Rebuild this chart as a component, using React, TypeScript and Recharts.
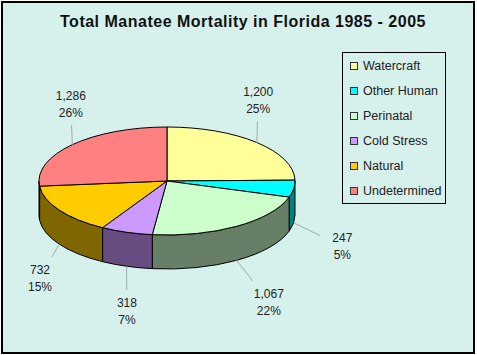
import React from 'react';
import { PieChart, Pie, Legend } from 'recharts';

const causes = ['Watercraft', 'Other Human', 'Perinatal', 'Cold Stress', 'Natural', 'Undetermined'];
const deaths = [1200, 247, 1067, 318, 732, 1286];
const topColors = ['#FFFF99', '#00FFFF', '#CCFFCC', '#CC99FF', '#FFCC00', '#FF8080'];
const sideColors = ['#80804C', '#008080', '#667F66', '#664C80', '#806600', '#804040'];

const BG = '#D6F0EC';
const TILT = 54 / 128; // flattening of the pie top
const DEPTH = 34; // thickness of the pie

// excel style percentages: round so they add up to 100
const pctLabels = (() => {
  const total = deaths.reduce((a, b) => a + b, 0);
  const raw = deaths.map((d) => (d * 100) / total);
  const fl = raw.map(Math.floor);
  const left = 100 - fl.reduce((a, b) => a + b, 0);
  const order = raw.map((r, i) => [r - fl[i], i]).sort((a, b) => b[0] - a[0]);
  for (let k = 0; k < left; k++) fl[order[k][1]]++;
  return fl.map((p) => p + '%');
})();

const data = causes.map((name, i) => ({
  name,
  value: deaths[i],
  fill: topColors[i],
  side: sideColors[i],
  pct: pctLabels[i],
}));

const pt = (cx: number, cy: number, rx: number, a: number) => {
  const r = (a * Math.PI) / 180;
  return [cx + rx * Math.cos(r), cy - rx * TILT * Math.sin(r)];
};

const Slice3D = (props: any) => {
  const { cx, cy, outerRadius: rx, startAngle, endAngle } = props;
  const ry = rx * TILT;
  const side = props.side ?? props.payload?.side ?? '#666';
  const fill = props.payload?.fill ?? props.fill;
  const [sx, sy] = pt(cx, cy, rx, startAngle);
  const [ex, ey] = pt(cx, cy, rx, endAngle);
  const large = Math.abs(startAngle - endAngle) > 180 ? 1 : 0;
  const sweep = startAngle > endAngle ? 1 : 0;
  const top = `M${cx},${cy} L${sx},${sy} A${rx},${ry} 0 ${large} ${sweep} ${ex},${ey} Z`;

  // front wall: the part of the arc between 0 and -180 degrees
  const hi = Math.min(Math.max(startAngle, endAngle), 0);
  const lo = Math.max(Math.min(startAngle, endAngle), -180);
  let wall = null;
  if (hi > lo) {
    const [hx, hy] = pt(cx, cy, rx, hi);
    const [lx, ly] = pt(cx, cy, rx, lo);
    wall = (
      <path
        d={`M${hx},${hy} A${rx},${ry} 0 0 1 ${lx},${ly} L${lx},${ly + DEPTH} A${rx},${ry} 0 0 0 ${hx},${hy + DEPTH} Z`}
        fill={side}
        stroke="#000"
        strokeWidth={1}
      />
    );
  }
  return (
    <g>
      {wall}
      <path d={top} fill={fill} stroke="#000" strokeWidth={1} />
    </g>
  );
};

const renderLabel = (props: any) => {
  const { cx, cy, outerRadius: rx, midAngle, value } = props;
  const pct = props.pct ?? props.payload?.pct;
  const r = (midAngle * Math.PI) / 180;
  const sin = Math.sin(r);
  const cos = Math.cos(r);
  const front = sin < 0;
  const [ex, ey0] = pt(cx, cy, rx, midAngle);
  const ey = ey0 + (front ? DEPTH : 0);
  const baseY = cy + (front ? DEPTH : 0);
  const lx = front ? cx + 12 + 165 * cos : cx + 130 * cos;
  const ly = baseY + (front ? 20 - 80 * sin : -20 - 85 * sin);

  // leader line stops at the edge of the text block
  const dx = lx - ex;
  const dy = ly - ey;
  const hw = 22;
  const hh = 21;
  const t = Math.min(dx !== 0 ? hw / Math.abs(dx) : 99, dy !== 0 ? hh / Math.abs(dy) : 99);
  const endX = lx - dx * t;
  const endY = ly - dy * t;

  return (
    <g>
      <line x1={ex} y1={ey} x2={endX} y2={endY} stroke="#A3ABA9" strokeWidth={1} />
      <text
        x={lx}
        y={ly}
        textAnchor="middle"
        fontFamily="Liberation Sans, Arial, sans-serif"
        fontSize={12}
        fill="#222"
      >
        <tspan x={lx} y={ly - 4}>{Number(value).toLocaleString('en-US')}</tspan>
        <tspan x={lx} y={ly + 13}>{pct}</tspan>
      </text>
    </g>
  );
};

const LegendBox = () => (
  <div
    style={{
      border: '1px solid #000',
      background: BG,
      fontFamily: 'Liberation Sans, Arial, sans-serif',
      fontSize: 12.5,
      color: '#222',
    }}
  >
    {data.map((d) => (
      <div key={d.name} style={{ height: 25, display: 'flex', alignItems: 'center', paddingLeft: 7 }}>
        <span
          style={{
            width: 6,
            height: 6,
            border: '1px solid #333',
            background: d.fill,
            marginRight: 5,
            display: 'inline-block',
          }}
        />
        <span>{d.name}</span>
      </div>
    ))}
  </div>
);

export default function App() {
  return (
    <div style={{ position: 'absolute', left: 0, top: 0, width: 477, height: 355, background: '#fff' }}>
      <div
        style={{
          position: 'absolute',
          left: 1,
          top: 1,
          width: 474,
          height: 353,
          boxSizing: 'border-box',
          border: '2px solid #000',
          background: BG,
        }}
      />
      <div
        style={{
          position: 'absolute',
          left: 0,
          top: 13,
          width: 486,
          textAlign: 'center',
          fontFamily: 'Liberation Sans, Arial, sans-serif',
          fontWeight: 'bold',
          fontSize: 16,
          letterSpacing: 0.5,
          color: '#111',
        }}
      >
        Total Manatee Mortality in Florida 1985 - 2005
      </div>
      <div style={{ position: 'absolute', left: 0, top: 0 }}>
        <PieChart width={477} height={355} margin={{ top: 0, right: 0, bottom: 0, left: 0 }}>
          <Pie
            data={data}
            dataKey="value"
            nameKey="name"
            cx={167}
            cy={181}
            outerRadius={128}
            startAngle={90}
            endAngle={-270}
            stroke="#000"
            isAnimationActive={false}
            shape={Slice3D}
            activeShape={Slice3D}
            label={renderLabel}
            labelLine={false}
          />
          <Legend
            layout="vertical"
            content={<LegendBox />}
            wrapperStyle={{ position: 'absolute', left: 342, top: 52, width: 104 }}
          />
        </PieChart>
      </div>
    </div>
  );
}
